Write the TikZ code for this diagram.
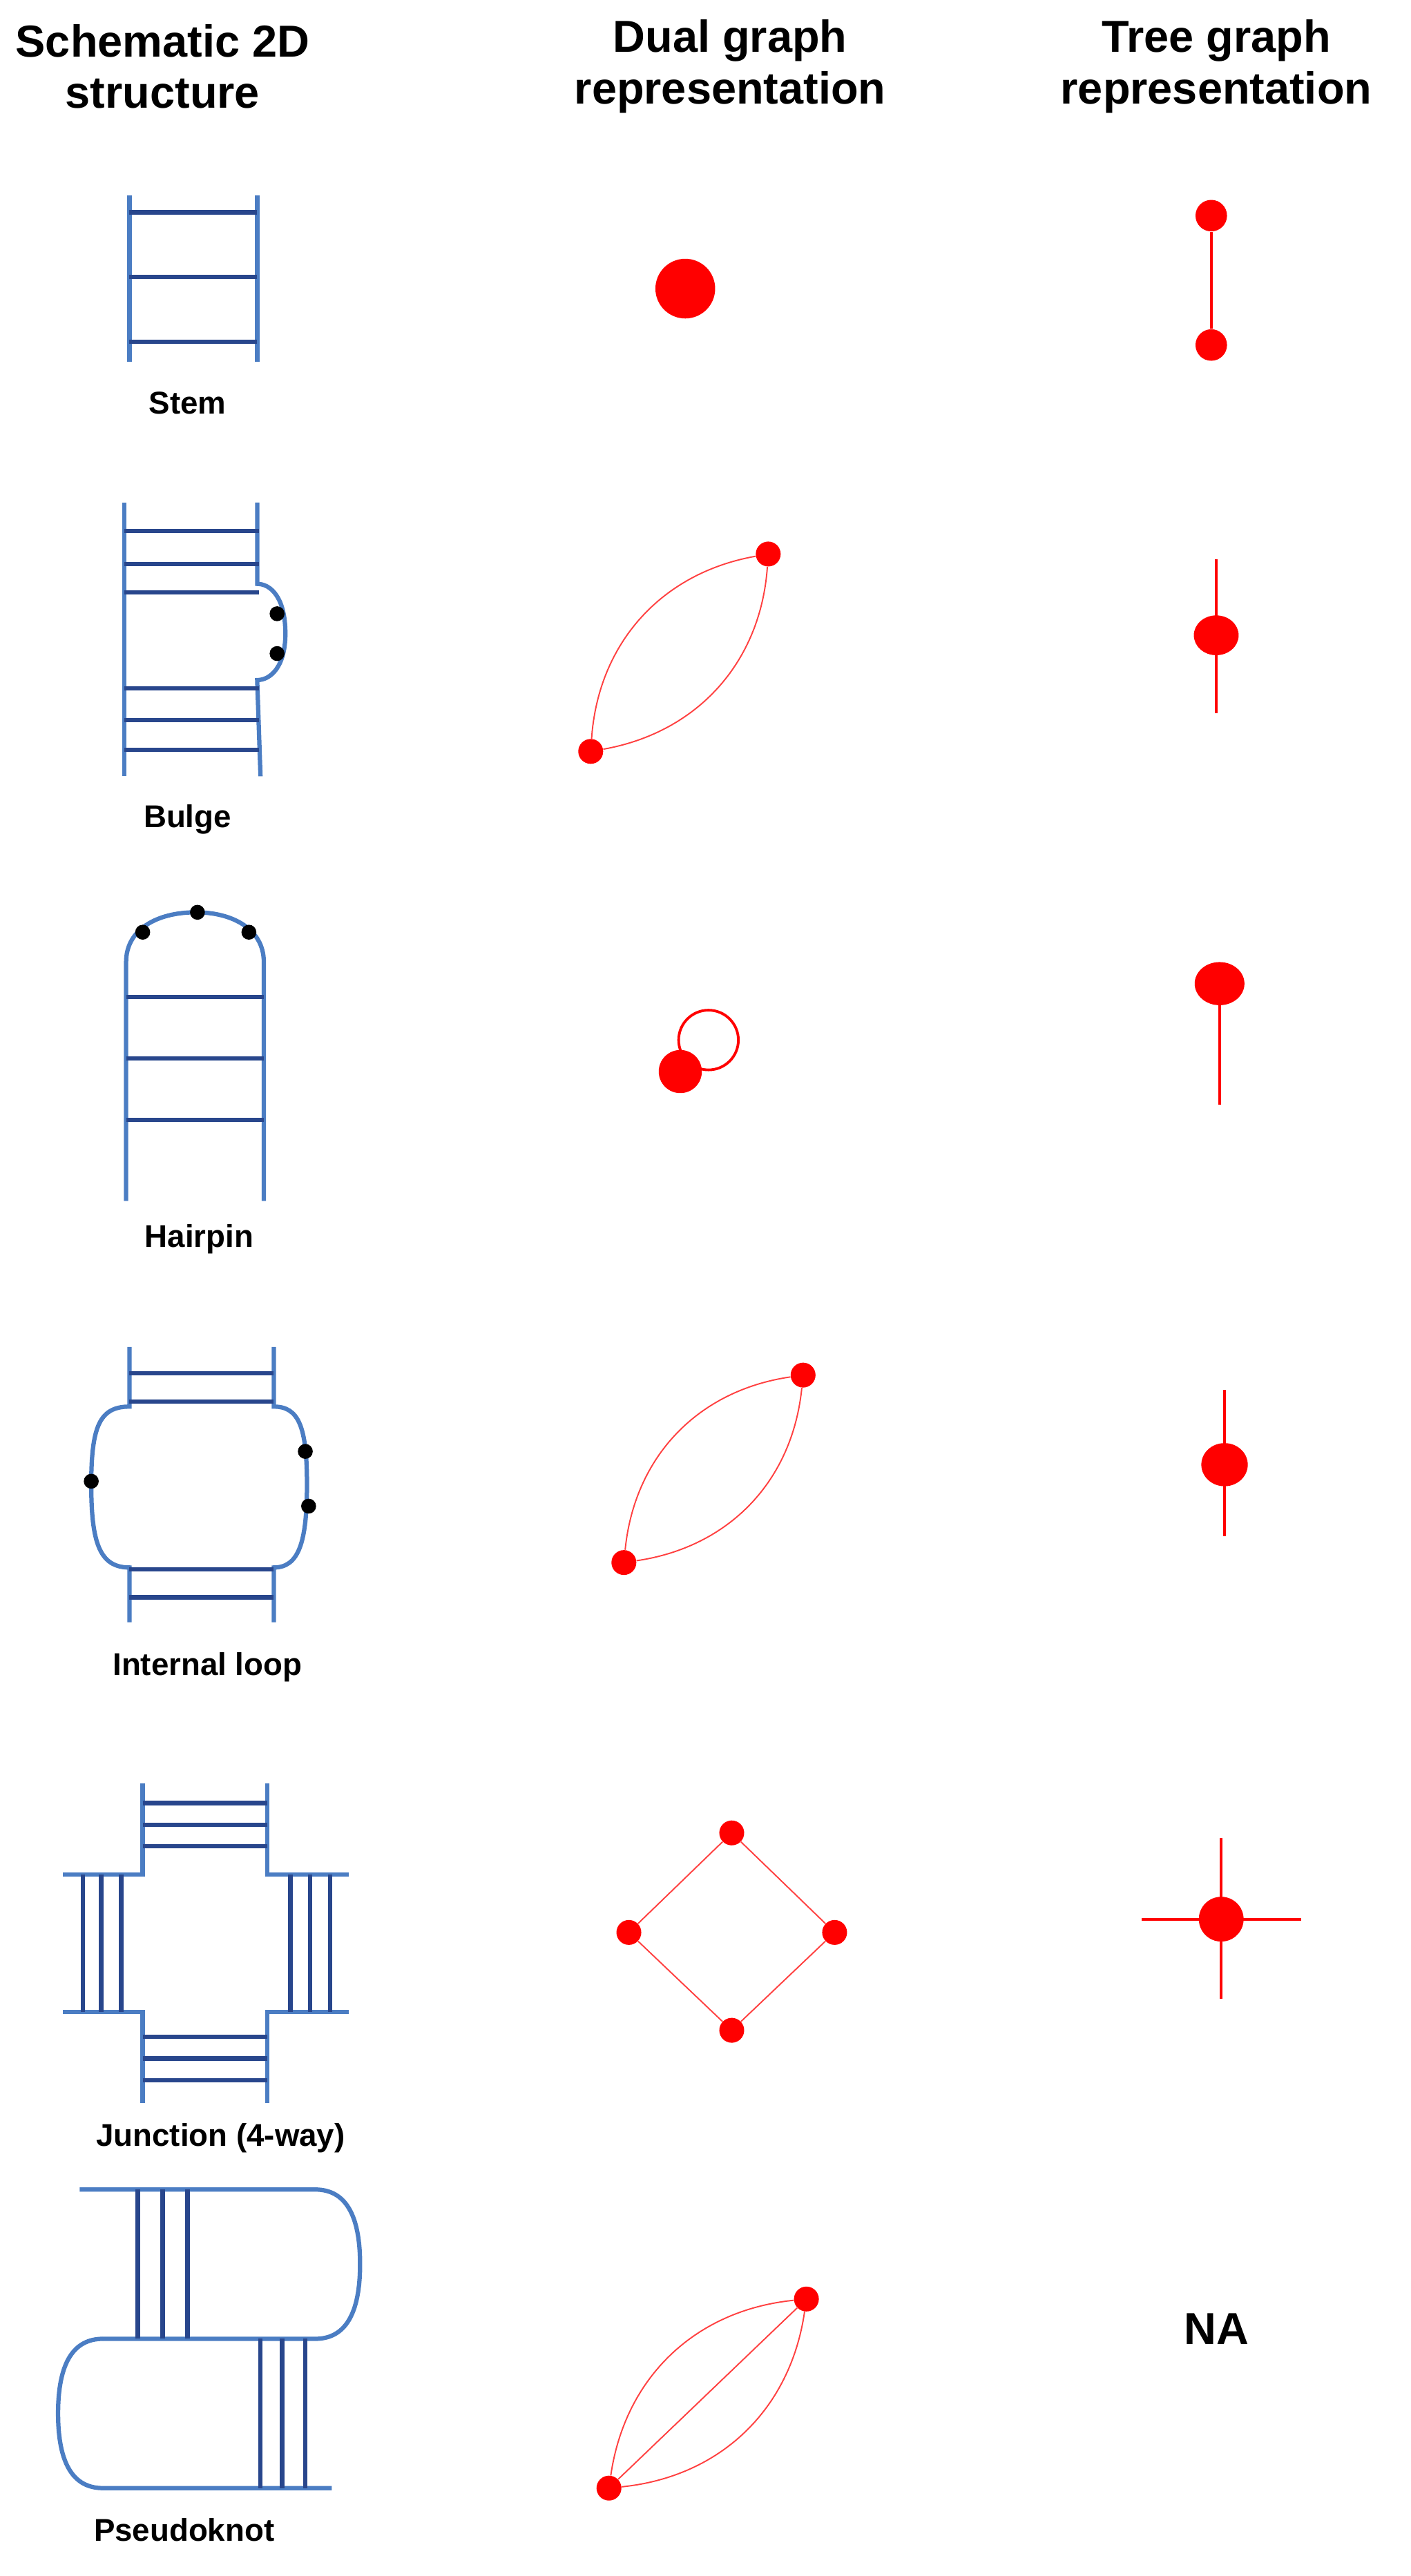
\documentclass[tikz,border=0pt]{standalone}
\usepackage{fontspec}
\setmainfont{Liberation Sans}
\usetikzlibrary{shapes.geometric}
\definecolor{outc}{RGB}{75,125,195}
\definecolor{rungc}{RGB}{40,70,140}
\begin{document}
\begin{tikzpicture}[x=1pt,y=-1pt,
  outl/.style={draw=outc, line width=2.6pt},
  rung/.style={draw=rungc, line width=2.6pt},
  ttl/.style={font=\bfseries\fontsize{27}{31}\selectfont, align=center},
  lbl/.style={font=\bfseries\fontsize{19}{22}\selectfont},
  dot/.style={circle, fill=black, inner sep=0pt, minimum size=9pt},
  rn/.style={circle, fill=red, inner sep=0pt, minimum size=15pt},
  de/.style={draw=red!75, line width=0.8pt},
  te/.style={draw=red, line width=1.6pt}]
\useasboundingbox (0,0) rectangle (850,1553);
% titles
\node[ttl] (t1) at (98,40) {Schematic 2D\\structure};
\node[ttl] (t2) at (440,40) {Dual graph\\representation};
\node[ttl] (t3) at (733,40) {Tree graph\\representation};
% ---- Stem
\draw[outl] (78,118) -- (78,218) (155,118) -- (155,218);
\foreach \y in {128,167,206} \draw[rung] (78,\y) -- (155,\y);
\node[lbl] (l1) at (113,243) {Stem};
\node[circle, fill=red, minimum size=36pt, inner sep=0pt] (d1) at (413,174) {};
\node[rn, minimum size=19pt] (s1a) at (730,130) {};
\node[rn, minimum size=19pt] (s1b) at (730,208) {};
\draw[te] (s1a) -- (s1b);
% ---- Bulge
\draw[outl] (75,303) -- (75,468);
\draw[outl] (155,303) -- (155,352) .. controls (163,352) and (172,360) .. (172,382) .. controls (172,402) and (163,410) .. (155,410) -- (157,468);
\foreach \y in {320,340,357,415,434,452} \draw[rung] (75,\y) -- (156,\y);
\node[dot] (b1) at (167,370) {};
\node[dot] (b2) at (167,394) {};
\node[lbl] (l2) at (113,494) {Bulge};
\node[rn] (d2a) at (463,334) {};
\node[rn] (d2b) at (356,453) {};
\draw[de] (d2a) to[bend right=38] (d2b);
\draw[de] (d2a) to[bend left=38] (d2b);
\coordinate (t2a) at (733,337); \coordinate (t2b) at (733,430);
\draw[te] (t2a) -- (t2b);
\node[ellipse, fill=red, minimum width=27pt, minimum height=24pt, inner sep=0pt] (t2c) at (733,383) {};
% ---- Hairpin
\draw[outl] (76,724) -- (76,580) .. controls (76,560) and (95,550) .. (118,550) .. controls (140,550) and (159,560) .. (159,580) -- (159,724);
\foreach \y in {601,638,675} \draw[rung] (76,\y) -- (159,\y);
\node[dot] (h1) at (86,562) {};
\node[dot] (h2) at (119,550) {};
\node[dot] (h3) at (150,562) {};
\node[lbl] (l3) at (120,747) {Hairpin};
\node[circle, draw=red, line width=1.6pt, minimum size=36pt, inner sep=0pt] (d3l) at (427,627) {};
\node[circle, fill=red, minimum size=26pt, inner sep=0pt] (d3) at (410,646) {};
\coordinate (t3b) at (735,666);
\draw[te] (735,593) -- (t3b);
\node[ellipse, fill=red, minimum width=30pt, minimum height=26pt, inner sep=0pt] (t3c) at (735,593) {};
% ---- Internal loop
\draw[outl] (78,812) -- (78,848) .. controls (60,848) and (55,860) .. (55,895) .. controls (55,930) and (60,945) .. (78,945) -- (78,978);
\draw[outl] (165,812) -- (165,848) .. controls (180,848) and (185,860) .. (185,895) .. controls (185,930) and (180,945) .. (165,945) -- (165,978);
\foreach \y in {828,845,946,963} \draw[rung] (78,\y) -- (165,\y);
\node[dot] (i1) at (55,893) {};
\node[dot] (i2) at (184,875) {};
\node[dot] (i3) at (186,908) {};
\node[lbl] (l4) at (125,1005) {Internal loop};
\node[rn] (d4a) at (484,829) {};
\node[rn] (d4b) at (376,942) {};
\draw[de] (d4a) to[bend right=38] (d4b);
\draw[de] (d4a) to[bend left=38] (d4b);
\draw[te] (738,838) -- (738,926);
\node[ellipse, fill=red, minimum width=28pt, minimum height=26pt, inner sep=0pt] (t4c) at (738,883) {};
% ---- Junction
\draw[outl] (86,1075) -- (86,1130) -- (38,1130) (38,1213) -- (86,1213) -- (86,1268);
\draw[outl] (161,1075) -- (161,1130) -- (210,1130) (210,1213) -- (161,1213) -- (161,1268);
\foreach \y in {1087,1100,1113,1228,1241,1254} \draw[rung] (86,\y) -- (161,\y);
\foreach \x in {50,61,73,175,187,199} \draw[rung] (\x,1130) -- (\x,1213);
\node[lbl] (l5) at (133,1289) {Junction (4-way)};
\node[rn] (j1) at (441,1105) {};
\node[rn] (j2) at (379,1165) {};
\node[rn] (j3) at (503,1165) {};
\node[rn] (j4) at (441,1224) {};
\draw[de] (j1) -- (j2) -- (j4) -- (j3) -- (j1);
\draw[te] (688,1157) -- (784,1157) (736,1108) -- (736,1205);
\node[circle, fill=red, minimum size=27pt, inner sep=0pt] (t5c) at (736,1157) {};
% ---- Pseudoknot
\draw[outl] (48,1320) -- (190,1320) .. controls (208,1320) and (217,1335) .. (217,1365) .. controls (217,1395) and (208,1410) .. (190,1410) -- (62,1410);
\draw[outl] (62,1410) .. controls (44,1410) and (35,1425) .. (35,1455) .. controls (35,1485) and (44,1500) .. (62,1500) -- (200,1500);
\foreach \x in {83,98,113} \draw[rung] (\x,1320) -- (\x,1410);
\foreach \x in {157,170,184} \draw[rung] (\x,1410) -- (\x,1500);
\node[lbl] (l6) at (111,1525) {Pseudoknot};
\node[rn] (p1) at (486,1386) {};
\node[rn] (p2) at (367,1500) {};
\draw[de] (p1) to[bend right=38] (p2);
\draw[de] (p1) to[bend left=38] (p2);
\draw[de] (p1) -- (p2);
\node[ttl] (na) at (733,1404) {NA};
\end{tikzpicture}
\end{document}
